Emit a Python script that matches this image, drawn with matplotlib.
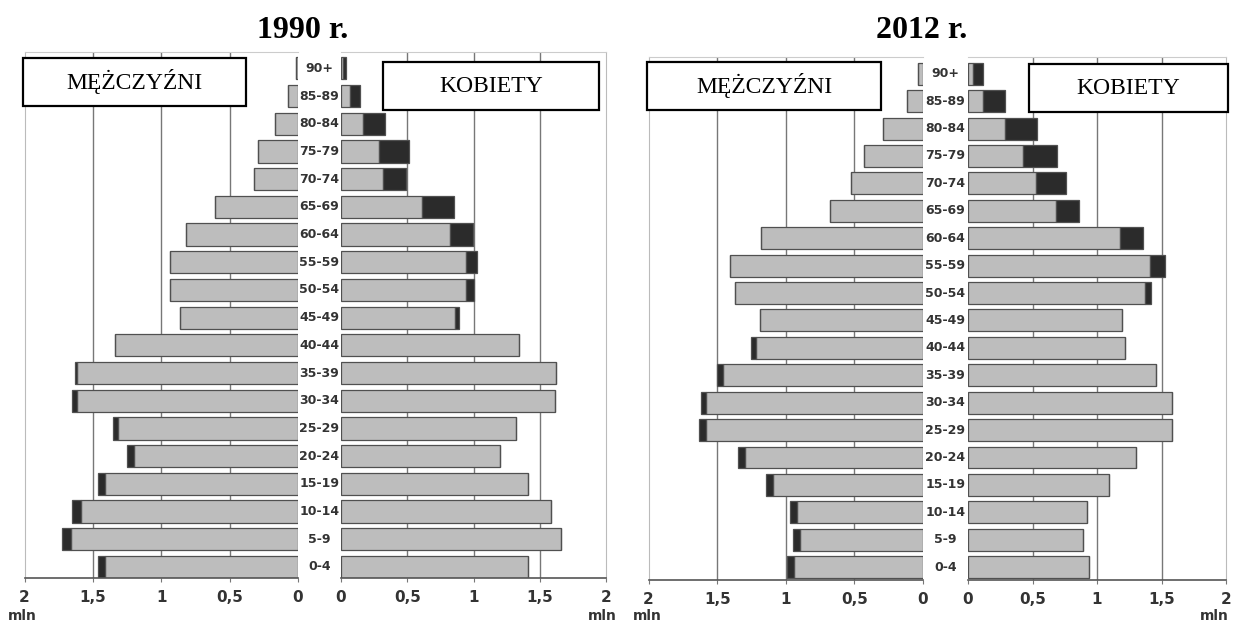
import matplotlib.pyplot as plt
from matplotlib.patches import Rectangle

# age groups, bottom to top
ages = ['0-4', '5-9', '10-14', '15-19', '20-24', '25-29', '30-34', '35-39', '40-44',
        '45-49', '50-54', '55-59', '60-64', '65-69', '70-74', '75-79', '80-84', '85-89', '90+']

# population in mln
men_1990 = [1.46, 1.73, 1.65, 1.46, 1.25, 1.35, 1.65, 1.63, 1.34,
            0.86, 0.94, 0.94, 0.82, 0.61, 0.32, 0.29, 0.165, 0.07, 0.015]
women_1990 = [1.41, 1.66, 1.587, 1.41, 1.197, 1.317, 1.615, 1.62, 1.345,
              0.89, 1.0, 1.03, 1.0, 0.85, 0.49, 0.51, 0.33, 0.14, 0.035]

men_2012 = [0.99, 0.945, 0.97, 1.145, 1.345, 1.63, 1.62, 1.50, 1.25,
            1.19, 1.37, 1.41, 1.18, 0.68, 0.525, 0.43, 0.29, 0.12, 0.035]
women_2012 = [0.94, 0.895, 0.92, 1.095, 1.30, 1.585, 1.58, 1.46, 1.215,
              1.19, 1.415, 1.53, 1.36, 0.86, 0.76, 0.69, 0.535, 0.29, 0.12]

tick_vals = [0, 0.5, 1, 1.5, 2]
tick_labels = ['0', '0,5', '1', '1,5', '2']

W, H = 1233, 630
GRAY = '#bdbdbd'
DARK = '#2b2b2b'
EDGE = '#505050'
LABEL_FONT = dict(family='DejaVu Sans', fontweight='bold', color='#333333')


def px_axes(fig, x0, x1, ytop, ybot):
    return fig.add_axes([x0 / W, 1 - ybot / H, (x1 - x0) / W, (ybot - ytop) / H])


def style_axis(ax, side):
    ax.set_xlim(0, 2)
    if side == 'left':
        ax.invert_xaxis()
        ax.spines['right'].set_visible(False)
        ax.spines['left'].set_color('#bbbbbb')
    else:
        ax.spines['left'].set_visible(False)
        ax.spines['right'].set_color('#bbbbbb')
    ax.spines['top'].set_color('#cccccc')
    ax.spines['bottom'].set_color('#555555')
    ax.spines['bottom'].set_linewidth(1.2)
    ax.set_yticks([])
    ax.set_xticks(tick_vals)
    ax.set_xticklabels(tick_labels, **LABEL_FONT, fontsize=11)
    ax.tick_params(axis='x', length=3, color='#777777', pad=6)
    for v in [0.5, 1, 1.5]:
        ax.axvline(v, color='#777777', lw=1, zorder=0)


def draw_pyramid(fig, men, women, title, xl0, xl1, xr0, xr1, ytop, ybot, ylim, title_x,
                 mln_x, boxes):
    y = list(range(len(ages)))
    common = [min(m, w) for m, w in zip(men, women)]
    men_extra = [max(m - w, 0) for m, w in zip(men, women)]
    women_extra = [max(w - m, 0) for m, w in zip(men, women)]

    axl = px_axes(fig, xl0, xl1, ytop, ybot)
    axr = px_axes(fig, xr0, xr1, ytop, ybot)
    for ax, side, extra in [(axl, 'left', men_extra), (axr, 'right', women_extra)]:
        style_axis(ax, side)
        ax.set_ylim(*ylim)
        ax.barh(y, common, height=0.8, color=GRAY, edgecolor=EDGE, lw=0.9, zorder=2)
        ax.barh(y, extra, left=common, height=0.8, color=DARK, edgecolor=EDGE, lw=0.9, zorder=2)

    # age labels column
    axm = px_axes(fig, xl1, xr0, ytop, ybot)
    axm.set_ylim(*ylim)
    axm.axis('off')
    for yi, lab in zip(y, ages):
        axm.text(0.5, yi, lab, ha='center', va='center', fontsize=9, **LABEL_FONT)

    for mx in mln_x:
        fig.text(mx / W, 1 - 616 / H, 'mln', ha='center', va='center', fontsize=10, **LABEL_FONT)

    fig.text(title_x / W, 1 - 31 / H, title, ha='center', va='center', fontsize=23,
             fontweight='bold', family='Liberation Serif')

    for (bx0, by0, bx1, by1, txt) in boxes:
        fig.patches.append(Rectangle((bx0 / W, 1 - by1 / H), (bx1 - bx0) / W, (by1 - by0) / H,
                                     transform=fig.transFigure, facecolor='white',
                                     edgecolor='black', lw=1.6, zorder=5))
        fig.text((bx0 + bx1) / 2 / W, 1 - (by0 + by1) / 2 / H, txt, ha='center', va='center',
                 fontsize=17, family='Liberation Serif', zorder=6)


fig = plt.figure(figsize=(W / 100, H / 100), dpi=100)

draw_pyramid(fig, men_1990, women_1990, '1990 r.', 24.6, 298, 341, 606, 52, 578,
             (-0.4, 18.59), 303, [22, 602],
             [(23, 58, 246, 106, 'MĘŻCZYŹNI'), (383, 62, 599, 110, 'KOBIETY')])
draw_pyramid(fig, men_2012, women_2012, '2012 r.', 648.6, 923, 968, 1226, 57, 580,
             (-0.47, 18.61), 922, [647, 1214],
             [(647, 62, 881, 110, 'MĘŻCZYŹNI'), (1029, 64, 1228, 112, 'KOBIETY')])

fig.savefig('out.png', dpi=100)
